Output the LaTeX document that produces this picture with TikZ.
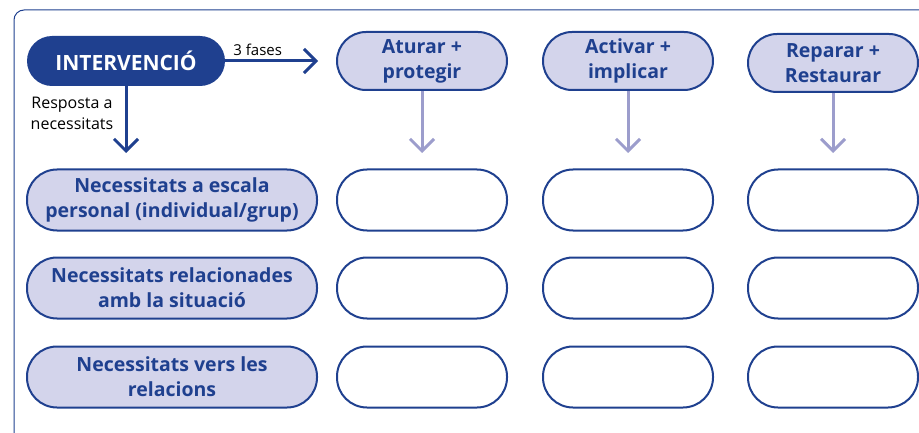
\documentclass[tikz,border=0pt]{standalone}
\usepackage{fontspec}
\setmainfont{Open Sans}
\usetikzlibrary{arrows.meta}
\definecolor{darkblue}{RGB}{31,64,143}
\definecolor{lavender}{RGB}{211,212,235}
\definecolor{lightarrow}{RGB}{156,157,204}
\begin{document}
\begin{tikzpicture}[x=1pt,y=-1pt,
	phase/.style={draw=darkblue, line width=2pt, fill=lavender, text=darkblue,
		rounded corners=29pt, minimum width=170pt, minimum height=58pt, inner sep=0pt,
		align=center, font=\bfseries\fontsize{19.5}{25}\selectfont},
	need/.style={phase, minimum width=290pt, minimum height=61pt, rounded corners=30pt},
	cell/.style={draw=darkblue, line width=2pt, rounded corners=30pt,
		minimum width=170pt, minimum height=61pt},
	darrow/.style={draw=darkblue, line width=3pt,
		-{Straight Barb[length=12pt, width=24pt, line width=3pt]}},
	larrow/.style={darrow, draw=lightarrow}
	]
		\clip (0,0) rectangle (919,433);
		% draw the frame
		\draw[darkblue, line width=1pt, rounded corners=10pt] (14,10) rectangle (960,442);
		
		% draw the main node and the three phases
		\node[fill=darkblue, text=white, rounded corners=25pt, minimum width=198pt,
		minimum height=50pt, font=\bfseries\fontsize{21}{24}\selectfont] (main) at (126,61) {INTERVENCIÓ};
		\node[phase] (aturar) at (422,61) {Aturar +\\protegir};
		\node[phase] (activar) at (628,61) {Activar +\\implicar};
		\node[phase] (reparar) at (833,63) {Reparar +\\Restaurar};
		
		% draw the needs
		\node[need] (persona) at (172,200) {Necessitats a escala\\personal (individual/grup)};
		\node[need] (situacio) at (172,288) {Necessitats relacionades\\amb la situació};
		\node[need] (relacio) at (172,377) {Necessitats vers les\\relacions};
		
		% draw the empty cells
		\foreach \col/\x in {a/422,b/628,c/833}
		\foreach \row/\y in {1/200,2/288,3/377}
		\node[cell] (cell\col\row) at (\x,\y) {};
		
		% draw the arrows
		\coordinate (fasesend) at (318,61);
		\coordinate (respend) at (126,153);
		\draw[darrow] (main.east) -- node[pos=0.35, above=1pt, text=black,
		font=\fontsize{15}{18}\selectfont] (fases) {3 fases} (fasesend);
		\draw[darrow] (main.south) -- (respend);
		\node[align=center, font=\fontsize{16}{21}\selectfont] (resposta) at (72,113) {Resposta a\\necessitats};
		
		\draw[larrow] (aturar.south) -- (422,153);
		\draw[larrow] (activar.south) -- (628,153);
		\draw[larrow] (reparar.south) -- (833,153);
\end{tikzpicture}
\end{document}
